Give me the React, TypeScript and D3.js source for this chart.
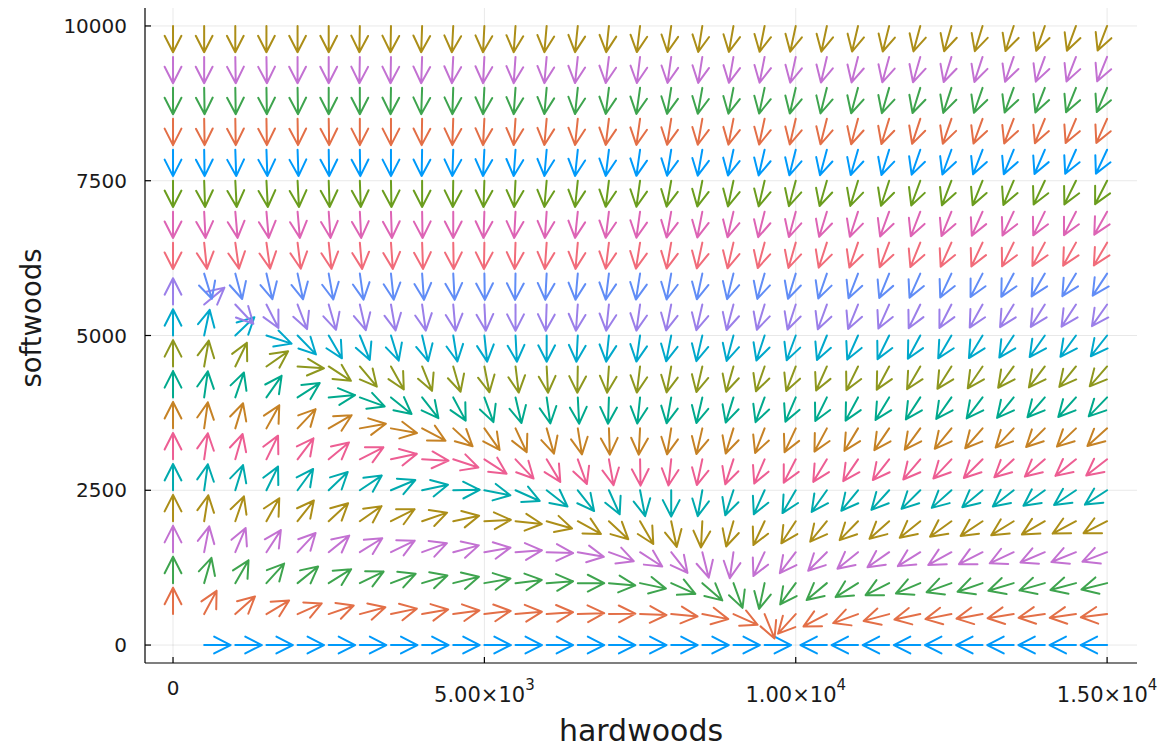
import React from "react";
import * as d3 from "d3";

// grid of the quiver plot
const hardwoods: number[] = [
  0, 500, 1000, 1500, 2000, 2500, 3000, 3500, 4000, 4500, 5000, 5500, 6000, 6500, 7000, 7500,
  8000, 8500, 9000, 9500, 10000, 10500, 11000, 11500, 12000, 12500, 13000, 13500, 14000, 14500, 15000,
];
const softwoods: number[] = [
  0, 500, 1000, 1500, 2000, 2500, 3000, 3500, 4000, 4500, 5000, 5500, 6000, 6500, 7000, 7500,
  8000, 8500, 9000, 9500, 10000,
];

// arrow direction (degrees, 0 = right, 90 = up), one array per softwoods row
// null = no arrow drawn (equilibrium)
const dir0 = [null, 0, 0, 0, 0, 0, 0, 0, 0, 0, 0, 0, 0, 0, 0, 0, 0, 0, 0, 0, null, 180, 180, 180, 180, 180, 180, 180, 180, 180, 180];
const dir500 = [90, 62, 42, 31, 24, 19, 15, 12, 10, 8, 7, 5, 4, 2, 1, -2, -5, -11, -24, -68, -132, -152, -160, -165, -168, -169, -170, -171, -172, -172, -173];
const dir1000 = [90, 74, 60, 48, 39, 32, 26, 21, 17, 14, 10, 7, 4, 0, -5, -12, -24, -41, -70, -102, -126, -140, -148, -153, -157, -160, -161, -163, -164, -165, -166];
const dir1500 = [90, 79, 67, 57, 47, 39, 32, 26, 20, 15, 10, 4, -2, -10, -20, -33, -52, -76, -98, -115, -127, -135, -141, -145, -148, -151, -153, -155, -157, -158, -159];
const dir2000 = [90, 81, 71, 61, 52, 43, 35, 27, 19, 12, 3, -6, -16, -29, -43, -60, -78, -93, -106, -115, -123, -129, -134, -138, -141, -144, -146, -148, -150, -152, -153];
const dir2500 = [90, 82, 73, 64, 54, 44, 34, 23, 12, 1, -11, -24, -38, -52, -66, -79, -90, -100, -108, -114, -120, -125, -129, -132, -135, -138, -140, -142, -144, -146, -147];
const dir3000 = [90, 82, 74, 64, 53, 40, 27, 12, -3, -18, -33, -47, -59, -70, -80, -89, -96, -102, -108, -113, -117, -121, -124, -128, -130, -133, -135, -137, -139, -141, -142];
const dir3500 = [90, 82, 73, 61, 47, 30, 10, -10, -28, -43, -55, -65, -74, -81, -88, -93, -99, -103, -107, -111, -115, -118, -121, -124, -126, -129, -131, -133, -135, -136, -138];
const dir4000 = [90, 82, 71, 55, 33, 5, -20, -39, -52, -62, -70, -77, -82, -87, -92, -96, -100, -103, -107, -110, -113, -116, -118, -121, -123, -125, -127, -129, -131, -132, -134];
const dir4500 = [90, 80, 64, 35, -4, -33, -50, -61, -68, -74, -79, -83, -87, -91, -94, -97, -100, -103, -106, -109, -111, -114, -116, -118, -120, -122, -124, -126, -127, -129, -131];
const dir5000 = [90, 78, 44, -18, -46, -60, -68, -73, -77, -81, -84, -87, -90, -93, -96, -98, -101, -103, -105, -108, -110, -112, -114, -116, -118, -120, -121, -123, -125, -126, -128];
const dir5500 = [90, 40, -47, -63, -69, -74, -77, -80, -82, -85, -87, -90, -92, -94, -96, -98, -101, -103, -105, -107, -108, -110, -112, -114, -116, -117, -119, -121, -122, -123, -125];
const dir6000 = [null, -73, -75, -77, -78, -80, -82, -84, -86, -87, -89, -91, -93, -95, -97, -99, -100, -102, -104, -106, -107, -109, -111, -112, -114, -115, -117, -118, -120, -121, -123];
const dir6500 = [-90, -84, -82, -82, -83, -84, -85, -86, -88, -89, -91, -92, -94, -95, -97, -99, -100, -102, -103, -105, -106, -108, -109, -111, -112, -114, -115, -116, -118, -119, -120];
const dir7000 = [-90, -87, -85, -85, -85, -86, -87, -88, -89, -90, -92, -93, -94, -96, -97, -98, -100, -101, -103, -104, -105, -107, -108, -110, -111, -112, -114, -115, -116, -117, -119];
const dir7500 = [-90, -88, -87, -87, -87, -88, -88, -89, -90, -91, -92, -93, -95, -96, -97, -98, -100, -101, -102, -103, -105, -106, -107, -108, -110, -111, -112, -113, -115, -116, -117];
const dir8000 = [-90, -89, -88, -88, -88, -89, -89, -90, -91, -92, -93, -94, -95, -96, -97, -98, -99, -100, -102, -103, -104, -105, -106, -107, -109, -110, -111, -112, -113, -114, -115];
const dir8500 = [-90, -89, -89, -89, -89, -89, -90, -90, -91, -92, -93, -94, -95, -96, -97, -98, -99, -100, -101, -102, -103, -104, -105, -107, -108, -109, -110, -111, -112, -113, -114];
const dir9000 = [-90, -89, -89, -89, -89, -90, -90, -91, -92, -92, -93, -94, -95, -96, -97, -98, -99, -100, -101, -102, -103, -104, -105, -106, -107, -108, -109, -110, -111, -112, -113];
const dir9500 = [-90, -90, -89, -89, -90, -90, -91, -91, -92, -93, -93, -94, -95, -96, -97, -97, -98, -99, -100, -101, -102, -103, -104, -105, -106, -107, -108, -109, -110, -111, -112];
const dir10000 = [-90, -90, -90, -90, -90, -90, -91, -91, -92, -93, -93, -94, -95, -96, -96, -97, -98, -99, -100, -101, -102, -102, -103, -104, -105, -106, -107, -108, -109, -110, -111];

const directions: (number | null)[][] = [
  dir0, dir500, dir1000, dir1500, dir2000, dir2500, dir3000, dir3500, dir4000, dir4500, dir5000,
  dir5500, dir6000, dir6500, dir7000, dir7500, dir8000, dir8500, dir9000, dir9500, dir10000,
];

// arrow length in data units (all arrows normalised)
const arrowLength = 425;

const xTicks = [0, 5000, 10000, 15000];
const xTickText = ["0", "5.00×10", "1.00×10", "1.50×10"];
const xTickExp = ["", "3", "4", "4"];
const yTicks = [0, 2500, 5000, 7500, 10000];
const yTickText = ["0", "2500", "5000", "7500", "10000"];

// default Plots.jl palette, one colour per row series
const palette = [
  "#009AFA", "#E36F47", "#3EA44E", "#C371D2", "#AC8E18", "#00AAAE", "#ED5E93", "#C68225",
  "#00A98D", "#8E971E", "#00A8CB", "#9B7FE9", "#618DF6", "#F16C7A", "#DD64B5", "#6B9D1E",
];

const W = 1173;
const H = 748;
const left = 145;
const right = 1137;
const top = 8;
const bottom = 663;
const font = "DejaVu Sans, sans-serif";

export default function App() {
  const x = d3.scaleLinear().domain([-450, 15480]).range([left, right]);
  const y = d3.scaleLinear().domain([-290, 10290]).range([bottom, top]);

  const headLen = 18.5;
  const headAngle = (27 * Math.PI) / 180;

  const arrows: { d: string; color: string; key: string }[] = [];
  softwoods.forEach((s, i) => {
    const color = palette[i % palette.length];
    hardwoods.forEach((h, j) => {
      const a = directions[i][j];
      if (a === null || a === undefined) return;
      const rad = (a * Math.PI) / 180;
      const x1 = x(h);
      const y1 = y(s);
      const x2 = x(h + arrowLength * Math.cos(rad));
      const y2 = y(s + arrowLength * Math.sin(rad));
      const phi = Math.atan2(y2 - y1, x2 - x1);
      const b1x = x2 + headLen * Math.cos(phi + Math.PI - headAngle);
      const b1y = y2 + headLen * Math.sin(phi + Math.PI - headAngle);
      const b2x = x2 + headLen * Math.cos(phi + Math.PI + headAngle);
      const b2y = y2 + headLen * Math.sin(phi + Math.PI + headAngle);
      arrows.push({
        key: `${i}-${j}`,
        color,
        d: `M${x1},${y1}L${x2},${y2}M${b1x},${b1y}L${x2},${y2}L${b2x},${b2y}`,
      });
    });
  });

  return (
    <svg
      width={W}
      height={H}
      style={{ position: "absolute", left: 0, top: 0, background: "#fff" }}
      fontFamily={font}
    >
      {/* grid */}
      <g stroke="#000" strokeOpacity={0.09} strokeWidth={1}>
        {xTicks.map((t) => (
          <line key={"gx" + t} x1={x(t)} x2={x(t)} y1={top} y2={bottom} />
        ))}
        {yTicks.map((t) => (
          <line key={"gy" + t} x1={left} x2={right} y1={y(t)} y2={y(t)} />
        ))}
      </g>

      {/* arrows */}
      <g fill="none" strokeWidth={2} strokeLinecap="round" strokeLinejoin="round">
        {arrows.map((a) => (
          <path key={a.key} d={a.d} stroke={a.color} />
        ))}
      </g>

      {/* axes */}
      <g stroke="#000" strokeWidth={1.2}>
        <line x1={left} x2={left} y1={top} y2={bottom} />
        <line x1={left} x2={right} y1={bottom} y2={bottom} />
        {xTicks.map((t) => (
          <line key={"tx" + t} x1={x(t)} x2={x(t)} y1={bottom} y2={bottom - 6} />
        ))}
        {yTicks.map((t) => (
          <line key={"ty" + t} x1={left} x2={left + 6} y1={y(t)} y2={y(t)} />
        ))}
      </g>

      {/* tick labels */}
      <g fontSize={20} fill="#1a1a1a">
        {yTicks.map((t, i) => (
          <text key={"ly" + t} x={127} y={y(t)} textAnchor="end" dominantBaseline="central">
            {yTickText[i]}
          </text>
        ))}
        {xTicks.map((t, i) =>
          xTickExp[i] === "" ? (
            <text key={"lx" + t} x={x(t)} y={695} textAnchor="middle">
              {xTickText[i]}
            </text>
          ) : (
            <text key={"lx" + t} x={x(t)} y={702} textAnchor="middle" fontSize={21}>
              {xTickText[i]}
              <tspan dy={-12} fontSize={15}>
                {xTickExp[i]}
              </tspan>
            </text>
          )
        )}
      </g>

      {/* axis titles */}
      <text x={(left + right) / 2} y={741} textAnchor="middle" fontSize={30} fill="#1a1a1a">
        hardwoods
      </text>
      <text
        transform={`translate(41, 318) rotate(-90)`}
        textAnchor="middle"
        fontSize={27.5}
        fill="#1a1a1a"
      >
        softwoods
      </text>
    </svg>
  );
}
